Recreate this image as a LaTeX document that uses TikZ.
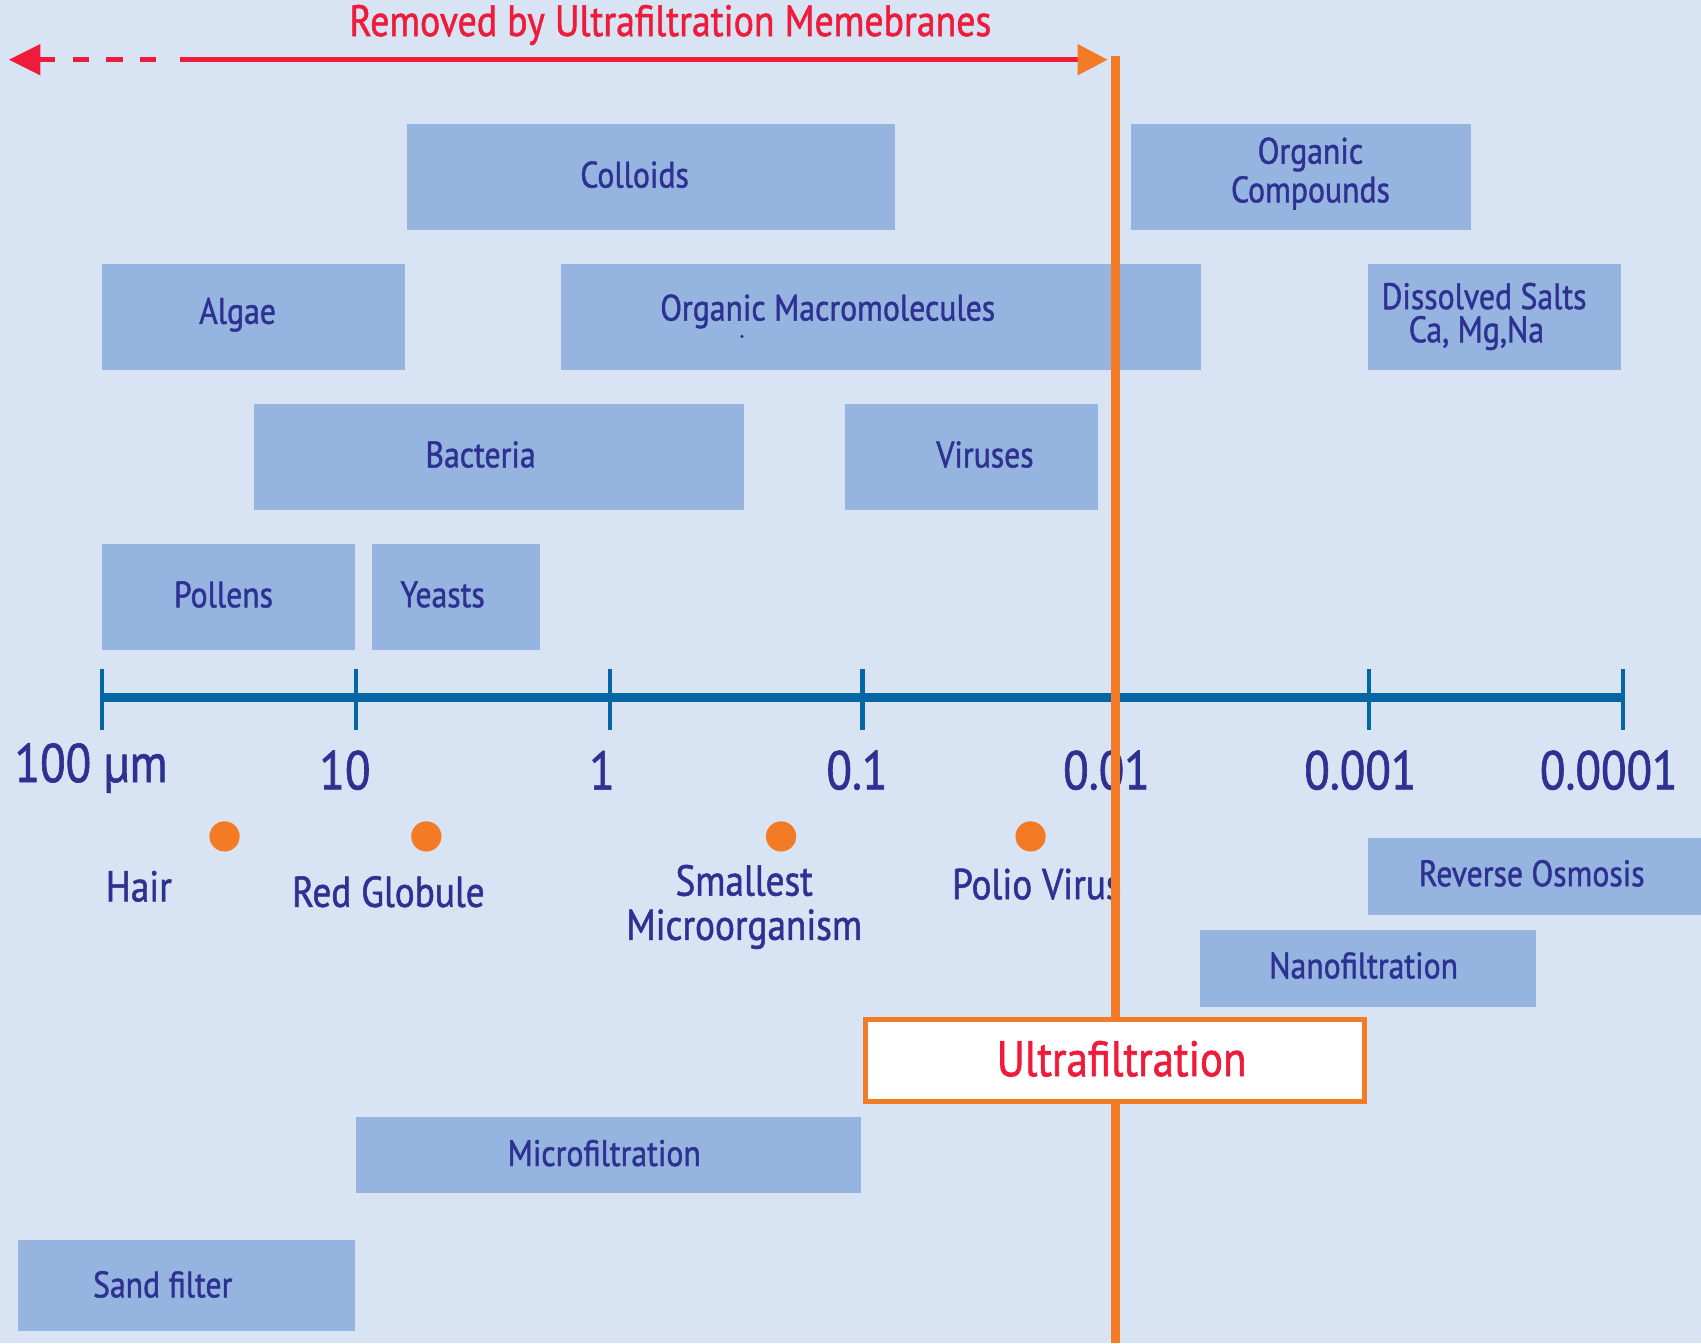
\documentclass[tikz,border=0pt]{standalone}
\usepackage{fontspec}
\setmainfont{PT Sans}[FakeStretch=0.86]
\newfontfamily\medfont{PT Sans}[FakeStretch=0.86, BoldFont={PT Sans}, BoldFeatures={FakeStretch=0.86, FakeBold=1.2}]
\usetikzlibrary{arrows.meta,fit}
\definecolor{bgblue}{HTML}{D8E3F3}
\definecolor{boxblue}{HTML}{95B4DF}
\definecolor{navy}{HTML}{2E3191}
\definecolor{axisblue}{HTML}{0467A3}
\definecolor{uforange}{HTML}{F47B25}
\definecolor{ufred}{HTML}{EE1B3B}
\tikzset{
  box/.style={fill=boxblue, draw=none, inner sep=0pt},
  boxtext/.style={text=navy, font=\medfont\bfseries\fontsize{10.5}{12}\selectfont, inner sep=0pt, align=center},
  ticklab/.style={text=navy, font=\medfont\bfseries\fontsize{15.5}{17}\selectfont, inner sep=0pt},
  ptlab/.style={text=navy, font=\medfont\bfseries\fontsize{12.3}{12.6}\selectfont, inner sep=0pt, align=center},
  dot/.style={circle, fill=uforange, inner sep=0pt, minimum size=8.6pt},
  axisline/.style={axisblue, line width=2.5pt},
  tickline/.style={axisblue, line width=1.2pt},
  redline/.style={ufred, line width=1.5pt},
  orangeline/.style={uforange, line width=2.6pt},
}
\begin{document}
\begin{tikzpicture}[x=0.010848cm, y=-0.010848cm]
\useasboundingbox (0,0) rectangle (1568,1238);
\fill[bgblue] (0,0) rectangle (1568,1238);

% title and arrow
\node[text=ufred, font=\medfont\bfseries\fontsize{12.5}{14}\selectfont, inner sep=0pt] (title) at (618,23) {Removed by Ultrafiltration Memebranes};
\coordinate (arrL) at (8,55);
\coordinate (dashEnd) at (157,55);
\coordinate (solidStart) at (166,55);
\coordinate (arrR) at (1021,55);
\draw[redline, dash pattern=on 4.6pt off 5pt, {Triangle[length=9pt,width=8.5pt]}-] (arrL) -- (dashEnd);
\draw[redline, -{Triangle[length=8.5pt,width=8.5pt,color=uforange]}] (solidStart) -- (arrR);

% particle boxes
\node[box, fit={(375,114) (825,212)}] (colloids) {};
\node[boxtext] (colloidsT) at (585,161) {Colloids};
\node[box, fit={(1043,114) (1356,212)}] (orgcomp) {};
\node[boxtext] (orgcompT) at (1208,160) {Organic\\[-1pt]Compounds};
\node[box, fit={(94,243) (373,341)}] (algae) {};
\node[boxtext] (algaeT) at (219,290) {Algae};
\node[box, fit={(517,243) (1107,341)}] (orgmacro) {};
\node[boxtext] (orgmacroT) at (763,287) {Organic Macromolecules};
\fill[navy] (684,310) circle (0.5pt);
\node[box, fit={(1261,243) (1494,341)}] (salts) {};
\node[boxtext, anchor=west] (saltsT1) at (1273,273) {Dissolved Salts};
\node[boxtext, anchor=west] (saltsT2) at (1298,307) {Ca, Mg,Na};
\node[box, fit={(234,372) (686,470)}] (bacteria) {};
\node[boxtext] (bacteriaT) at (443,419) {Bacteria};
\node[box, fit={(779,372) (1012,470)}] (viruses) {};
\node[boxtext] (virusesT) at (908,419) {Viruses};
\node[box, fit={(94,501) (327,599)}] (pollens) {};
\node[boxtext] (pollensT) at (206,548) {Pollens};
\node[box, fit={(343,501) (498,599)}] (yeasts) {};
\node[boxtext] (yeastsT) at (408,548) {Yeasts};

% filtration boxes
\node[box, fit={(1261,772) (1568,843)}] (ro) {};
\node[boxtext] (roT) at (1412,805) {Reverse Osmosis};
\node[box, fit={(1106,857) (1416,928)}] (nf) {};
\node[boxtext] (nfT) at (1257,890) {Nanofiltration};
\node[box, fit={(328,1030) (794,1100)}] (mf) {};
\node[boxtext] (mfT) at (557,1063) {Microfiltration};
\node[box, fit={(17,1143) (327,1227)}] (sand) {};
\node[boxtext] (sandT) at (150,1184) {Sand filter};

% axis
\coordinate (ax0) at (94,643);
\coordinate (ax6) at (1496,643);
\draw[axisline] (ax0) -- (ax6);
\foreach \x in {94,328,562,795,1028,1262,1496}
  \draw[tickline] (\x,617) -- (\x,673);
\node[ticklab] (l100) at (84,708) {100 µm};
\node[ticklab] (l10) at (318,710) {10};
\node[ticklab] (l1) at (555,710) {1};
\node[ticklab] (l01) at (790,710) {0.1};
\node[ticklab] (l001) at (1020,710) {0.01};
\node[ticklab] (l0001) at (1254,710) {0.001};
\node[ticklab] (l00001) at (1483,710) {0.0001};

% reference particles
\node[dot] (hairdot) at (207,771) {};
\node[dot] (rbcdot) at (393,771) {};
\node[dot] (microdot) at (720,771) {};
\node[dot] (poliodot) at (950,771) {};
\node[ptlab] (hairT) at (128,817) {Hair};
\node[ptlab] (rbcT) at (358,822) {Red Globule};
\node[ptlab] (microT) at (686,836) {Smallest\\Microorganism};
\node[ptlab, anchor=west] (polioT) at (877,815) {Polio Virus};

% ultrafiltration cut line and box
\coordinate (ufTop) at (1028,52);
\coordinate (ufBot) at (1028,1238);
\draw[orangeline] (ufTop) -- (ufBot);
\node[draw=uforange, line width=1.4pt, fill=white, inner sep=0pt, fit={(798,940) (1258,1015)}] (uf) {};
\node[text=ufred, font=\medfont\bfseries\fontsize{14.2}{16}\selectfont, inner sep=0pt] (ufT) at (1034,976) {Ultrafiltration};
\end{tikzpicture}
\end{document}
